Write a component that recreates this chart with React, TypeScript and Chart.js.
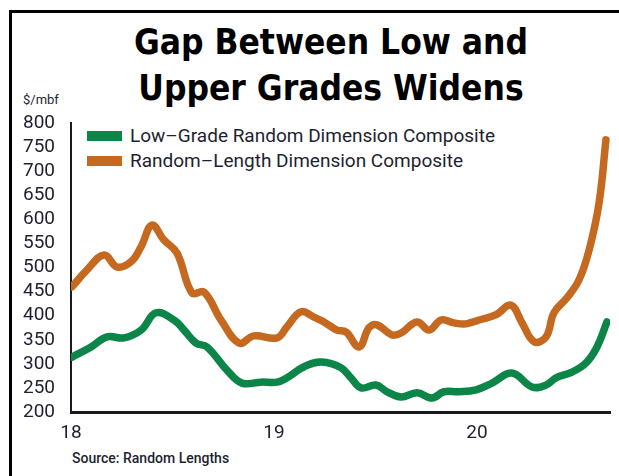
import React, { useEffect, useRef } from "react";
import { Chart, registerables } from "chart.js";

Chart.register(...registerables);

// Dates as fractional years (18 = Jan 2018)
const orangeDates = [18.005, 18.079, 18.163, 18.227, 18.296, 18.345, 18.399, 18.458, 18.522, 18.596, 18.655, 18.739, 18.828, 18.901, 19.015, 19.064, 19.133, 19.197, 19.246, 19.31, 19.355, 19.419, 19.468, 19.507, 19.581, 19.626, 19.704, 19.764, 19.823, 19.887, 19.946, 20.01, 20.094, 20.167, 20.222, 20.281, 20.34, 20.379, 20.443, 20.502, 20.552, 20.601, 20.635];
const orangeValues = [460, 495, 526, 501, 512, 543, 588, 557, 530, 447, 449, 391, 343, 358, 354, 377, 408, 397, 387, 370, 366, 335, 375, 381, 360, 364, 387, 370, 391, 385, 383, 391, 402, 422, 385, 346, 356, 406, 437, 474, 536, 634, 765];

const greenDates = [18.005, 18.099, 18.177, 18.261, 18.345, 18.419, 18.507, 18.557, 18.616, 18.67, 18.768, 18.842, 18.936, 19.015, 19.064, 19.148, 19.236, 19.33, 19.379, 19.429, 19.502, 19.557, 19.626, 19.704, 19.778, 19.837, 19.911, 19.995, 20.074, 20.172, 20.271, 20.34, 20.389, 20.468, 20.537, 20.591, 20.64];
const greenValues = [314, 335, 356, 354, 370, 406, 391, 370, 343, 335, 287, 260, 262, 262, 271, 294, 304, 292, 271, 250, 256, 242, 231, 240, 229, 242, 242, 246, 260, 281, 252, 256, 271, 283, 302, 335, 387];

const xTickValues = [18, 19, 20];
const seriesLabels = ["Low\u2013Grade Random Dimension Composite", "Random\u2013Length Dimension Composite"];
const GREEN = "#0b8548";
const ORANGE = "#c4691f";
const TEXT = "#1e1f30";

export default function App() {
  const ref = useRef<HTMLCanvasElement>(null);
  useEffect(() => {
    const ctx = ref.current!;
    const chart = new Chart(ctx, {
      type: "line",
      data: {
        datasets: [
          {
            label: seriesLabels[0],
            data: greenDates.map((d, i) => ({ x: d, y: greenValues[i] })),
            borderColor: GREEN,
            backgroundColor: GREEN,
            borderWidth: 7.5,
            pointRadius: 0,
            tension: 0.4,
            borderCapStyle: "round",
            borderJoinStyle: "round",
          },
          {
            label: seriesLabels[1],
            data: orangeDates.map((d, i) => ({ x: d, y: orangeValues[i] })),
            borderColor: ORANGE,
            backgroundColor: ORANGE,
            borderWidth: 7.5,
            pointRadius: 0,
            tension: 0.4,
            borderCapStyle: "round",
            borderJoinStyle: "round",
          },
        ],
      },
      options: {
        animation: false,
        responsive: false,
        maintainAspectRatio: false,
        layout: { padding: { top: 123, right: 9, bottom: 0, left: 0 } },
        plugins: { legend: { display: false }, tooltip: { enabled: false } },
        scales: {
          x: {
            type: "linear",
            min: 18,
            max: 20.655,
            grid: { display: false },
            border: { display: true, color: "#1a1a1a", width: 3 },
            afterBuildTicks: (s: any) => {
              s.ticks = xTickValues.map((v) => ({ value: v }));
            },
            afterFit: (s: any) => {
              s.height = 64;
            },
            ticks: {
              color: TEXT,
              padding: 2,
              font: { family: "Roboto", size: 19 },
              callback: (v: any) => String(v),
              maxRotation: 0,
              autoSkip: false,
            },
          },
          y: {
            min: 200,
            max: 800,
            grid: { display: false },
            border: { display: true, color: "#1a1a1a", width: 2 },
            afterFit: (s: any) => {
              s.width = 71;
            },
            ticks: {
              stepSize: 50,
              autoSkip: false,
              color: TEXT,
              padding: 8,
              font: { family: "Roboto", size: 19 },
            },
          },
        },
      },
    });
    return () => chart.destroy();
  }, []);

  const legendRow = (color: string, label: string, top: number) => (
    <div style={{ position: "absolute", left: 87, top, display: "flex", alignItems: "center" }}>
      <div style={{ width: 35, height: 10, background: color, marginRight: 8 }} />
      <span style={{ fontFamily: "Roboto", fontSize: 19, color: TEXT, whiteSpace: "nowrap", lineHeight: "20px" }}>{label}</span>
    </div>
  );

  return (
    <div style={{ position: "absolute", left: 0, top: 0, width: 619, height: 476, overflow: "hidden", background: "#fff" }}>
      <div style={{ position: "absolute", left: 9, top: 10, width: 700, height: 600, borderLeft: "3px solid #000", borderTop: "3px solid #000" }} />
      <div style={{ position: "absolute", left: 0, top: 19, width: 662, textAlign: "center", fontFamily: "'DejaVu Sans Condensed', 'DejaVu Sans'", fontStretch: "condensed", fontWeight: 700, fontSize: 35, lineHeight: "46px", color: "#000" }}>
        Gap Between Low and<br />Upper Grades Widens
      </div>
      <div style={{ position: "absolute", left: 23, top: 92, fontFamily: "Roboto", fontSize: 13, color: TEXT }}>$/mbf</div>
      {legendRow(GREEN, seriesLabels[0], 126)}
      {legendRow(ORANGE, seriesLabels[1], 151)}
      <div style={{ position: "absolute", left: 72, top: 450, fontFamily: "Roboto", fontWeight: 500, fontSize: 14, color: TEXT }}>Source: Random Lengths</div>
      <canvas ref={ref} width={619} height={476} style={{ position: "absolute", left: 0, top: 0, width: 619, height: 476 }} />
    </div>
  );
}
